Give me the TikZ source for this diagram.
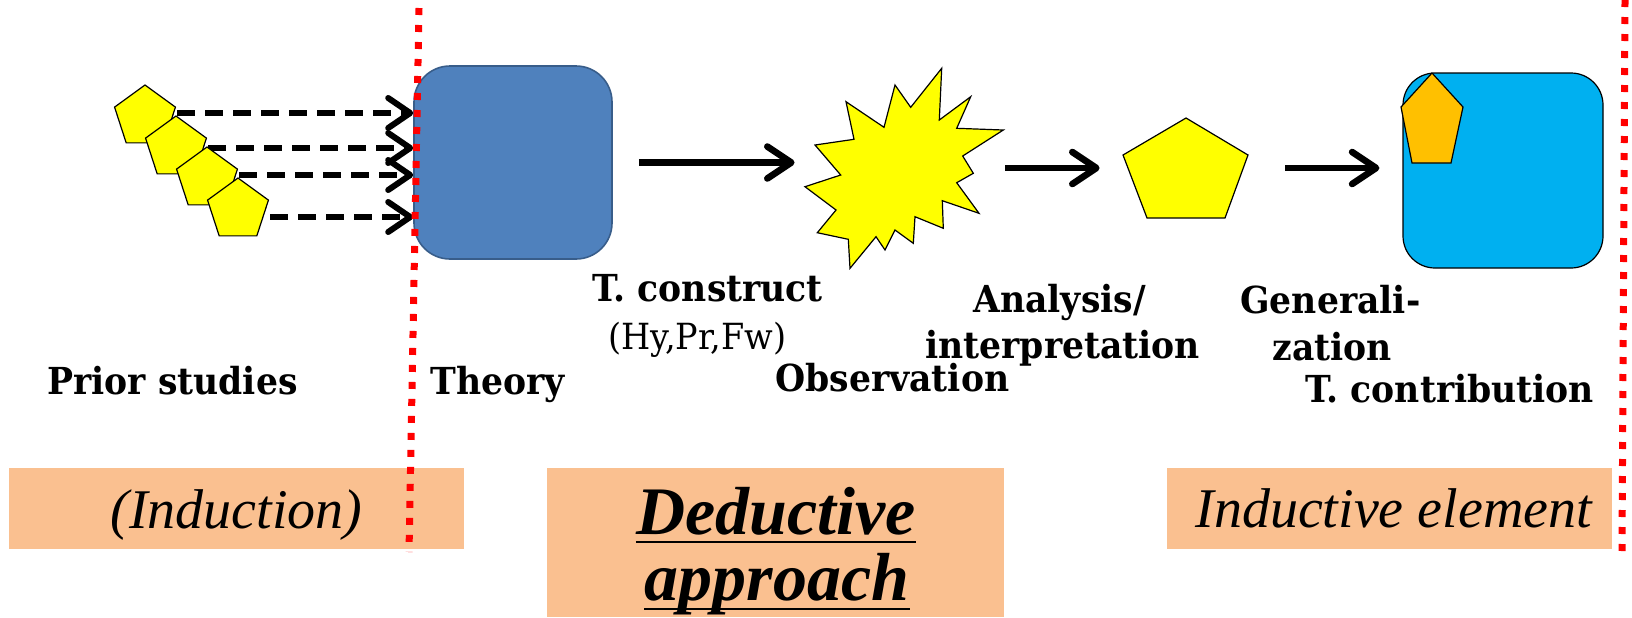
\documentclass[tikz,border=0pt]{standalone}
\usepackage{fontspec}
\setmainfont{DejaVu Serif}
\newfontfamily\labelfont[FakeStretch=0.93]{DejaVu Serif}
\newfontfamily\libser{Liberation Serif}
\usetikzlibrary{arrows.meta,shapes.geometric}
\definecolor{yel}{HTML}{FFFF00}
\definecolor{theoryblue}{HTML}{4F81BD}
\definecolor{theoryedge}{HTML}{385D8A}
\definecolor{cyanbox}{HTML}{00B0F0}
\definecolor{orangep}{HTML}{FFC000}
\definecolor{peach}{HTML}{FAC090}
\definecolor{dotred}{HTML}{FF0000}
\begin{document}
\begin{tikzpicture}[x=0.5pt,y=-0.5pt,
  lbl/.style={inner sep=0pt, anchor=base west, font=\labelfont\fontsize{18.6}{21}\selectfont\bfseries},
  lblreg/.style={inner sep=0pt, anchor=base west, font=\labelfont\fontsize{18}{21}\selectfont},
  ital/.style={inner sep=0pt, anchor=base west, font=\libser\fontsize{28}{32}\selectfont\itshape},
  dedu/.style={inner sep=0pt, anchor=base, font=\libser\fontsize{34}{38}\selectfont\bfseries\itshape},
  dashar/.style={line width=3pt, dash pattern=on 9pt off 5pt, -{Straight Barb[length=11pt,width=15pt,round]}},
  solar/.style={line width=3.3pt, -{Straight Barb[length=12pt,width=16pt,round]}},
  reddot/.style={dotred, line width=3.5pt, dash pattern=on 3.5pt off 5pt},
  peachbox/.style={fill=peach, draw=none, inner sep=0pt},
  pentY/.style={regular polygon, regular polygon sides=5, minimum size=32pt, inner sep=0pt, fill=yel, draw=black, line width=0.6pt},
  ghost/.style={inner sep=0pt, draw=none}]
\useasboundingbox (0,0) rectangle (1632,617);

% bottom boxes
\node[peachbox, minimum width=227.5pt, minimum height=40.5pt] (ib1) at (236.5,508.5) {};
\node[peachbox, minimum width=228.5pt, minimum height=74.5pt] (ib2) at (775.5,542.5) {};
\node[peachbox, minimum width=222.5pt, minimum height=40.5pt] (ib3) at (1389.5,508.5) {};

% main shapes
\node[fill=theoryblue, draw=theoryedge, line width=0.8pt, rounded corners=18pt,
      minimum width=99pt, minimum height=96.5pt, inner sep=0pt] (theory) at (513,162.5) {};
\node[fill=cyanbox, draw=black, line width=0.6pt, rounded corners=16pt,
      minimum width=100pt, minimum height=97.5pt, inner sep=0pt] (contrib) at (1503,170.5) {};
\draw[fill=orangep, line width=0.6pt] (1432,73) -- (1463,107) -- (1451,163) -- (1412,163) -- (1401,107) -- cycle;

\node[ghost, minimum width=99pt, minimum height=100pt] (obs) at (904,168) {};
\draw[fill=yel, line width=0.6pt] (941.7,68.3) -- (939.3,120) -- (970.7,96.7) -- (956.7,128.3) -- (1003.3,130) -- (962.7,156) -- (973.3,173.3) -- (956.7,182.7) -- (979,213.3) -- (942.3,200.7) -- (943.3,228.3) -- (915,216.7) -- (913.3,243.3) -- (895,230) -- (885,250) -- (876,236.7) -- (850,268.3) -- (848.3,239.3) -- (817.3,232.7) -- (836,210) -- (805,186.7) -- (840.7,175) -- (815,145) -- (854,139.3) -- (846,101.7) -- (884,127.3) -- (895,85) -- (910.7,107.3) -- cycle;

\node[ghost, minimum width=62.5pt, minimum height=50pt] (pent) at (1185.5,168) {};
\draw[fill=yel, line width=0.6pt] (1186,118) -- (1248,155) -- (1225,218) -- (1147,218) -- (1123,155) -- cycle;

% left pentagons (positions) and dashed arrows
\node[ghost, minimum size=32pt] (p1) at (145,117) {};
\node[ghost, minimum size=32pt] (p2) at (176,148) {};
\node[ghost, minimum size=32pt] (p3) at (207,179) {};
\node[ghost, minimum size=32pt] (p4) at (238,210) {};
\draw[dashar] ([yshift=2pt]p1.east) -- ([yshift=2pt]p1.east -| theory.west);
\draw[dashar] (p2.east) -- (p2.east -| theory.west);
\draw[dashar] ([yshift=2pt]p3.east) -- ([yshift=2pt]p3.east -| theory.west);
\draw[dashar] ([yshift=-3.5pt]p4.east) -- ([yshift=-3.5pt]p4.east -| theory.west);
\node[pentY] (q1) at (p1) {};
\node[pentY] (q2) at (p2) {};
\node[pentY] (q3) at (p3) {};
\node[pentY] (q4) at (p4) {};

% solid arrows
\draw[solar] ([xshift=13pt]theory.east) -- ([xshift=-5pt]theory.east -| obs.west);
\draw[solar] ([xshift=1pt]obs.east) -- ([xshift=-11.5pt]pent.west);
\draw[solar] ([xshift=18.5pt]pent.east) -- ([xshift=-11.5pt]pent.east -| contrib.west);

% labels
\node[lbl] (lprior) at (47,394) {Prior studies};
\node[lbl] (ltheory) at (430,394) {Theory};
\node[lbl] (lconstr) at (592,301) {T. construct};
\node[lblreg] (lhy) at (608,349) {(Hy,Pr,Fw)};
\node[lbl] (lobs) at (775,391) {Observation};
\node[lbl] (lana) at (973,312) {Analysis/};
\node[lbl] (linterp) at (925,358) {interpretation};
\node[lbl] (lgen) at (1240,313) {Generali-};
\node[lbl] (lzat) at (1272,360) {zation};
\node[lbl] (lcontr) at (1305,402) {T. contribution};

% bottom texts
\node[ital] (tind) at (110,528) {(Induction)};
\node[ital] (tindel) at (1195,527) {Inductive element};
\node[dedu] (tded) at (776,534) {Deductive};
\node[dedu] (tapp) at (777,600) {approach};
\draw[line width=1pt] ([yshift=-4pt]tded.base west) -- ([yshift=-4pt]tded.base east);
\draw[line width=1pt] ([yshift=-4.5pt]tapp.base west) -- ([yshift=-4.5pt]tapp.base east);

% red dotted lines
\coordinate (r1a) at (419,8);
\coordinate (r1b) at (409,552);
\coordinate (r2a) at (1625,0);
\coordinate (r2b) at (1622,552);
\draw[reddot] (r1a) -- (r1b);
\draw[reddot] (r2a) -- (r2b);
\end{tikzpicture}
\end{document}
